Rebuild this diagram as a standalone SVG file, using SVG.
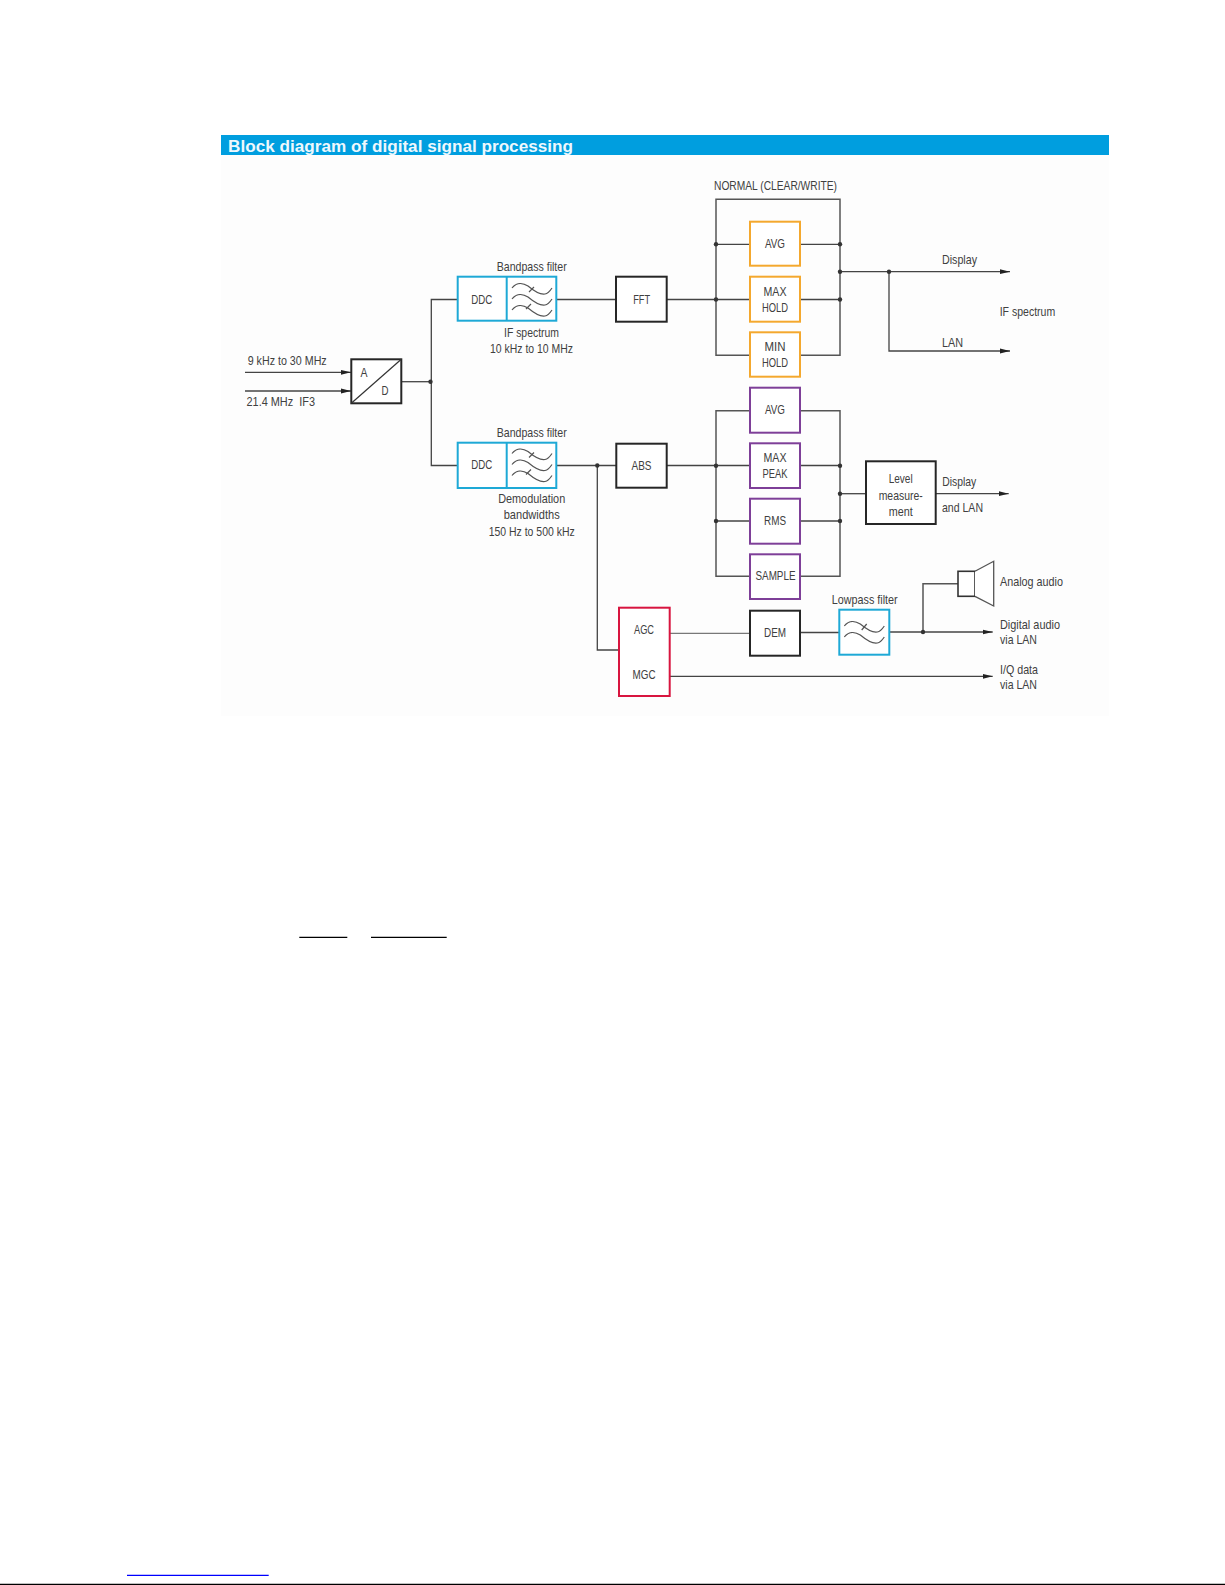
<svg xmlns="http://www.w3.org/2000/svg" width="1225" height="1585" viewBox="0 0 1225 1585">
<style>
text{font-family:"Liberation Sans",Arial,sans-serif;font-size:13.5px;fill:#404040}
.m{text-anchor:middle}
.title{font-size:16.5px;font-weight:bold;fill:#eef8fd}
.b{fill:#fff;stroke-width:2}
.k{stroke:#262626}.c{stroke:#1ea9d6}.o{stroke:#f4a82e}.p{stroke:#7e3f98}.r{stroke:#d8153f}
#connectors path{fill:none;stroke:#444;stroke-width:1.3}
#connectors .f{stroke:#555;stroke-width:1.5}
#connectors circle{fill:#333;stroke:none}
.w{fill:none;stroke:#555;stroke-width:1.2}
</style>
<defs>
<marker id="arrow" markerUnits="userSpaceOnUse" markerWidth="10" markerHeight="6" refX="10" refY="3" orient="auto"><path d="M0,0.6L10,3L0,5.4Z" fill="#222"/></marker>
<path id="wave" d="M512,288C516,283 522,282 528,286C534,291 540,295 545,294C548,293.5 550,291 552,288"/>
</defs>
<rect width="1225" height="1585" fill="#fff"/>
<rect id="panel" x="221" y="155" width="888" height="561" fill="#fdfdfd"/>
<g id="banner"><rect x="221" y="135" width="888" height="20" fill="#009edf"/><text class="title" x="228" y="152" textLength="345" lengthAdjust="spacingAndGlyphs">Block diagram of digital signal processing</text></g>

<g id="connectors">
<path d="M245,372.3H351" marker-end="url(#arrow)"/>
<path d="M245,391H351" marker-end="url(#arrow)"/>
<path d="M401,381.7H431.3"/>
<path d="M458,299.5H431.3V465.5H458"/>
<path d="M556,299.5H616"/>
<path d="M667,299.5H750"/>
<path d="M800,299.5H840"/>
<path class="f" d="M750,199.3H716V355.3H750M800,355.3H840V199.3H716"/>
<path d="M716,244.3H750M800,244.3H840"/>
<path d="M840,271.7H1010" marker-end="url(#arrow)"/>
<path d="M889,271.7V351H1010" marker-end="url(#arrow)"/>
<path d="M556,465.5H616"/>
<path d="M667,465.5H750M800,465.5H840"/>
<path class="f" d="M750,410.7H716V576.3H750M800,576.3H840V410.7H800"/>
<path d="M716,521H750M800,521H840"/>
<path d="M840,493.7H866"/>
<path d="M936,493.7H1008.7" marker-end="url(#arrow)"/>
<path d="M597.3,465.5V650H619"/>
<path d="M670,633.3H750" style="stroke-width:.9"/>
<path d="M800,632.5H839"/>
<path d="M889,632H992.7" marker-end="url(#arrow)"/>
<path class="f" d="M923,632V583.7H958"/>
<path d="M670,676.3H992.7" marker-end="url(#arrow)"/>
<circle cx="430.5" cy="381.7" r="2.2"/><circle cx="716" cy="244.3" r="2.2"/><circle cx="716" cy="299.5" r="2.2"/><circle cx="840" cy="244.3" r="2.2"/><circle cx="840" cy="299.5" r="2.2"/><circle cx="840" cy="271.7" r="2.2"/><circle cx="889" cy="271.7" r="2.2"/><circle cx="597.3" cy="465.5" r="2.2"/><circle cx="716" cy="465.7" r="2.2"/><circle cx="716" cy="521" r="2.2"/><circle cx="840" cy="465.7" r="2.2"/><circle cx="840" cy="521" r="2.2"/><circle cx="840" cy="493.7" r="2.2"/><circle cx="923" cy="632" r="2.2"/>
</g>

<g id="labels-input"><text x="247.7" y="365" textLength="79" lengthAdjust="spacingAndGlyphs">9 kHz to 30 MHz</text><text x="246.5" y="406" textLength="68.5" lengthAdjust="spacingAndGlyphs" xml:space="preserve">21.4 MHz  IF3</text></g>

<g id="ad"><rect class="b k" x="351.3" y="359.3" width="50" height="44"/><path d="M351.3,403.3L401.3,359.3" stroke="#333" stroke-width="1.2"/><text class="m" x="364" y="377" textLength="7" lengthAdjust="spacingAndGlyphs">A</text><text class="m" x="385" y="395" textLength="7" lengthAdjust="spacingAndGlyphs">D</text></g>

<g id="ddc1"><rect class="b c" x="457.7" y="276.7" width="98.6" height="44"/><path class="c" d="M506.7,276.7V320.7" stroke-width="2" fill="none"/><text class="m" x="481.7" y="303.5" textLength="21" lengthAdjust="spacingAndGlyphs">DDC</text>
<g class="w"><use href="#wave"/><use href="#wave" y="11"/><use href="#wave" y="22"/><path d="M529,292L534,287M526,309L531,304"/></g>
<text class="m" x="531.7" y="270.7" textLength="70" lengthAdjust="spacingAndGlyphs">Bandpass filter</text><text class="m" x="531.5" y="336.7" textLength="55" lengthAdjust="spacingAndGlyphs">IF spectrum</text><text class="m" x="531.5" y="353" textLength="83" lengthAdjust="spacingAndGlyphs">10 kHz to 10 MHz</text></g>

<g id="ddc2"><rect class="b c" x="457.7" y="442.7" width="98.6" height="45.3"/><path class="c" d="M506.7,442.7V488" stroke-width="2" fill="none"/><text class="m" x="481.7" y="469" textLength="21" lengthAdjust="spacingAndGlyphs">DDC</text>
<g class="w" transform="translate(0,165.5)"><use href="#wave"/><use href="#wave" y="11"/><use href="#wave" y="22"/><path d="M529,292L534,287M526,309L531,304"/></g>
<text class="m" x="531.7" y="437" textLength="70" lengthAdjust="spacingAndGlyphs">Bandpass filter</text><text class="m" x="531.7" y="503.3" textLength="67" lengthAdjust="spacingAndGlyphs">Demodulation</text><text class="m" x="531.7" y="519.3" textLength="56" lengthAdjust="spacingAndGlyphs">bandwidths</text><text class="m" x="531.7" y="536" textLength="86" lengthAdjust="spacingAndGlyphs">150 Hz to 500 kHz</text></g>

<g id="fft"><rect class="b k" x="616" y="276.7" width="50.7" height="45"/><text class="m" x="641.7" y="303.5" textLength="17" lengthAdjust="spacingAndGlyphs">FFT</text></g>
<g id="abs"><rect class="b k" x="616.3" y="443.7" width="50.4" height="44"/><text class="m" x="641.5" y="470" textLength="20" lengthAdjust="spacingAndGlyphs">ABS</text></g>

<text id="normal-label" x="714" y="190" textLength="123" lengthAdjust="spacingAndGlyphs">NORMAL (CLEAR/WRITE)</text>
<g id="avg-orange"><rect class="b o" x="750" y="221.7" width="50" height="44"/><text class="m" x="775" y="248" textLength="20" lengthAdjust="spacingAndGlyphs">AVG</text></g>
<g id="max-hold"><rect class="b o" x="750" y="276.7" width="50" height="45"/><text class="m" x="775" y="295.7" textLength="23" lengthAdjust="spacingAndGlyphs">MAX</text><text class="m" x="775" y="312" textLength="26" lengthAdjust="spacingAndGlyphs">HOLD</text></g>
<g id="min-hold"><rect class="b o" x="750" y="332.3" width="50" height="44.4"/><text class="m" x="775" y="350.7" textLength="21" lengthAdjust="spacingAndGlyphs">MIN</text><text class="m" x="775" y="367.3" textLength="26" lengthAdjust="spacingAndGlyphs">HOLD</text></g>

<g id="avg-purple"><rect class="b p" x="750" y="387.7" width="50" height="45"/><text class="m" x="775" y="414.3" textLength="20" lengthAdjust="spacingAndGlyphs">AVG</text></g>
<g id="max-peak"><rect class="b p" x="750" y="443.3" width="50" height="44.7"/><text class="m" x="775" y="461.7" textLength="23" lengthAdjust="spacingAndGlyphs">MAX</text><text class="m" x="775" y="478.3" textLength="25" lengthAdjust="spacingAndGlyphs">PEAK</text></g>
<g id="rms"><rect class="b p" x="750" y="498.7" width="50" height="45"/><text class="m" x="775" y="525.3" textLength="22" lengthAdjust="spacingAndGlyphs">RMS</text></g>
<g id="sample"><rect class="b p" x="750" y="554.3" width="50" height="44.7"/><text class="m" x="775.5" y="580.3" textLength="40" lengthAdjust="spacingAndGlyphs">SAMPLE</text></g>

<g id="level"><rect class="b k" x="866" y="461.3" width="69.7" height="62.7"/><text class="m" x="900.7" y="483" textLength="24" lengthAdjust="spacingAndGlyphs">Level</text><text class="m" x="900.7" y="500" textLength="44" lengthAdjust="spacingAndGlyphs">measure-</text><text class="m" x="900.7" y="515.7" textLength="24" lengthAdjust="spacingAndGlyphs">ment</text></g>

<g id="agc-mgc"><rect class="b r" x="619" y="607.7" width="50.7" height="88.3"/><text class="m" x="644" y="634" textLength="20" lengthAdjust="spacingAndGlyphs">AGC</text><text class="m" x="644" y="679" textLength="23" lengthAdjust="spacingAndGlyphs">MGC</text></g>
<g id="dem"><rect class="b k" x="750" y="610.7" width="50" height="45"/><text class="m" x="775" y="637.3" textLength="22" lengthAdjust="spacingAndGlyphs">DEM</text></g>
<g id="lowpass"><rect class="b c" x="839.3" y="609.7" width="50" height="45"/><g class="w" transform="translate(332.3,338)"><use href="#wave"/><use href="#wave" y="11"/><path d="M529.4,292L534.4,286"/></g><text class="m" x="864.7" y="604" textLength="66" lengthAdjust="spacingAndGlyphs">Lowpass filter</text></g>
<g id="speaker"><rect x="958" y="571.3" width="17" height="25" fill="#fff" stroke="#333" stroke-width="1.6"/><path d="M975,571.3L993.7,561.3V606L975,596.3" fill="#fff" stroke="#555" stroke-width="1.3"/></g>

<g id="output-labels">
<text x="942" y="264" textLength="35" lengthAdjust="spacingAndGlyphs">Display</text>
<text x="942" y="346.7" textLength="21" lengthAdjust="spacingAndGlyphs">LAN</text>
<text x="999.7" y="315.7" textLength="55.5" lengthAdjust="spacingAndGlyphs">IF spectrum</text>
<text x="942.3" y="486" textLength="34" lengthAdjust="spacingAndGlyphs">Display</text>
<text x="942" y="512.3" textLength="41" lengthAdjust="spacingAndGlyphs">and LAN</text>
<text x="1000" y="585.7" textLength="63" lengthAdjust="spacingAndGlyphs">Analog audio</text>
<text x="1000" y="629.3" textLength="60" lengthAdjust="spacingAndGlyphs">Digital audio</text>
<text x="1000" y="644.3" textLength="37" lengthAdjust="spacingAndGlyphs">via LAN</text>
<text x="1000" y="674.3" textLength="38" lengthAdjust="spacingAndGlyphs">I/Q data</text>
<text x="1000" y="689.3" textLength="37" lengthAdjust="spacingAndGlyphs">via LAN</text>
</g>

<g id="rules">
<path d="M299.3,937.3H347.3M371,937.3H446.7" stroke="#000" stroke-width="1.3" fill="none"/>
<path d="M127,1575.3H268.7" stroke="#00f" stroke-width="1.3" fill="none"/>
<path d="M0,1584.4H1225" stroke="#000" stroke-width="1.4" fill="none"/>
</g>
</svg>
